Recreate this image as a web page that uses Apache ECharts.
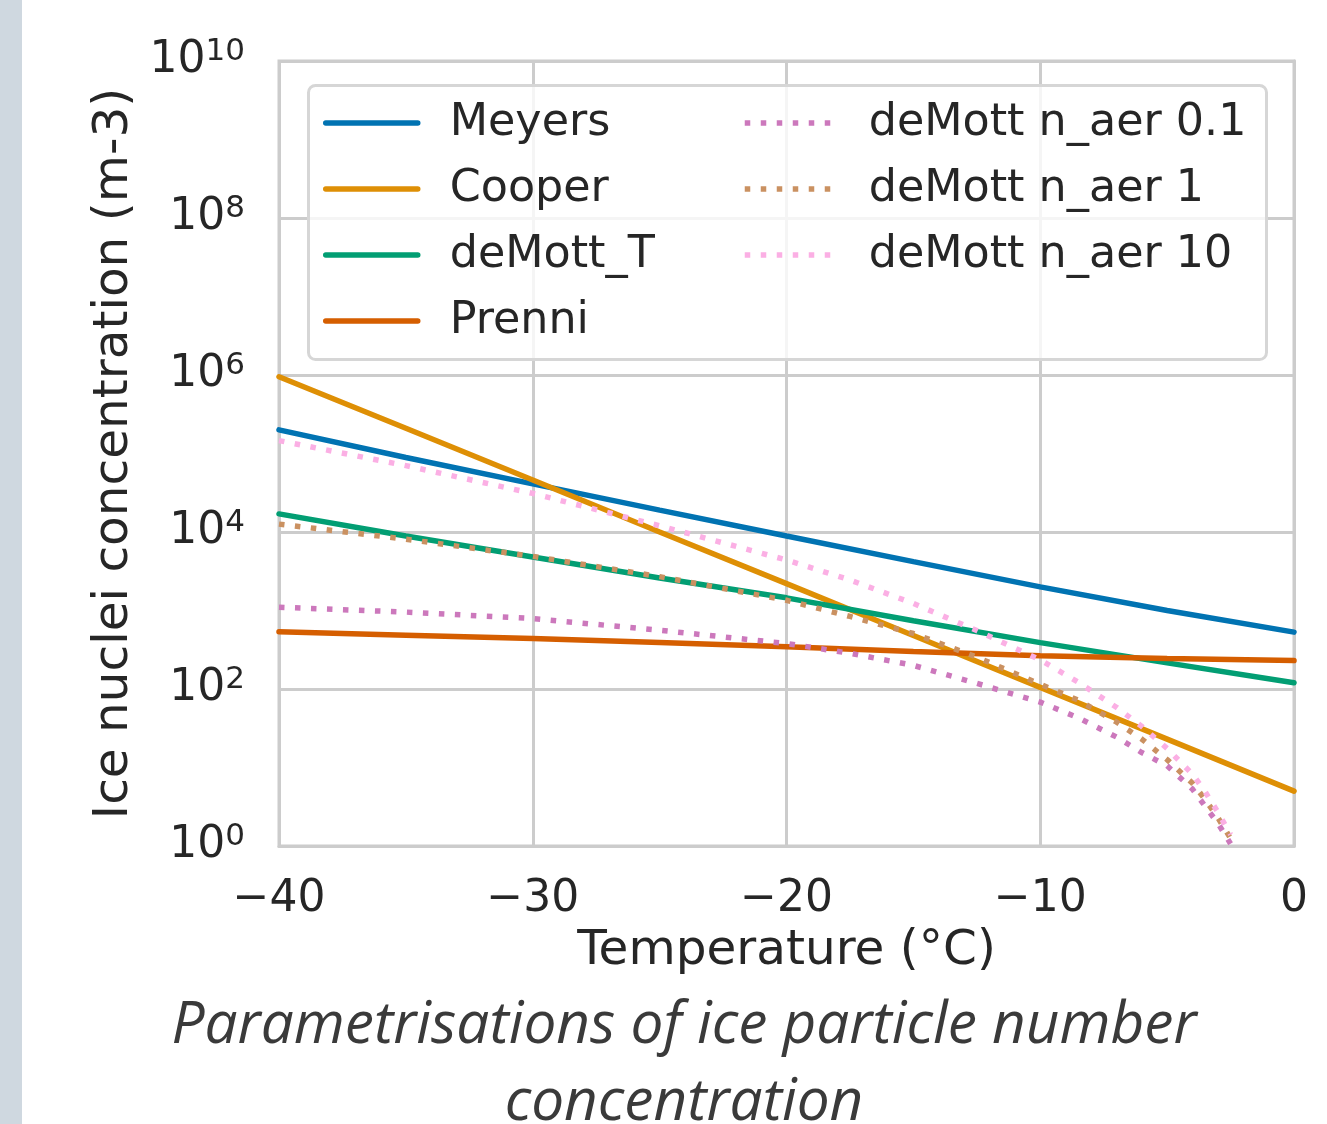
<!DOCTYPE html>
<html>
<head>
<meta charset="utf-8">
<script src="https://cdn.jsdelivr.net/npm/echarts@6/dist/echarts.min.js"></script>
<style>
  html, body { margin: 0; padding: 0; background: #fff; }
  #chart { width: 1327px; height: 1124px; }
</style>
</head>
<body>
<div id="chart"></div>
<script>
// temperatures (°C) for the straight parametrisations
const tempsSolid = [-40, -35, -30, -25, -20, -15, -10, -5, 0];
const meyers   = [2.0e5, 8.9e4, 4.1e4, 1.9e4, 8.9e3, 4.2e3, 2.0e3, 1.0e3, 530];
const cooper   = [9.5e5, 2.1e5, 4.6e4, 1.0e4, 2.2e3, 480, 105, 23, 5.0];
const demottT  = [1.7e4, 8.9e3, 4.8e3, 2.6e3, 1450, 740, 390, 215, 120];
const prenni   = [535, 485, 440, 390, 345, 300, 265, 245, 230];

// temperatures for the aerosol-dependent deMott curves
const tempsDot = [-40, -35, -30, -25, -20, -17.5, -15, -12.5, -10, -8.5, -7, -6, -5, -4, -3.5, -3, -2.5];
const demott01 = [1100, 955, 790, 560, 380, 285, 200, 118, 68, 43, 24.5, 15.5, 10.5, 5.3, 3.2, 1.95, 1.07];
const demott1  = [1.26e4, 8.1e3, 4.9e3, 2.7e3, 1350, 840, 510, 255, 115, 72, 38, 23, 12.6, 6.3, 3.9, 2.3, 1.25];
const demott10 = [1.46e5, 7.0e4, 3.1e4, 1.2e4, 4.4e3, 2450, 1230, 555, 235, 122, 58.5, 33.4, 17.5, 8.2, 4.9, 2.7, 1.4];

const xTicks = [-40, -30, -20, -10, 0];
const captionLines = ['Parametrisations of ice particle number', 'concentration'];

function pairs(xs, ys) {
  return xs.map((x, i) => [x, ys[i]]);
}

const font = 'DejaVu Sans';
const textColor = '#262626';
const gridColor = '#cccccc';

function solid(name, color, xs, ys) {
  return {
    name: name, type: 'line', data: pairs(xs, ys),
    symbol: 'none', showSymbol: false, silent: true,
    lineStyle: { color: color, width: 5.5, cap: 'round' },
    itemStyle: { color: color }
  };
}
function dotted(name, color, xs, ys) {
  return {
    name: name, type: 'line', data: pairs(xs, ys),
    symbol: 'none', showSymbol: false, silent: true,
    lineStyle: { color: color, width: 5.5, type: [5.5, 10.5], cap: 'butt' },
    itemStyle: { color: color }
  };
}

const legendCommon = {
  orient: 'vertical',
  top: 98,
  padding: 0,
  itemWidth: 92,
  itemHeight: 14,
  itemGap: 16,
  selectedMode: false,
  z: 10,
  itemStyle: { opacity: 0 },
  lineStyle: { width: 5.5 },
  textStyle: { fontFamily: font, fontSize: 44.4, lineHeight: 50, color: textColor, padding: [0, 0, 0, 27] }
};

const chart = echarts.init(document.getElementById('chart'));
const option = {
  backgroundColor: '#ffffff',
  animation: false,
  grid: {
    left: 279, right: 33, top: 61, bottom: 278,
    show: true, borderColor: gridColor, borderWidth: 3
  },
  legend: [
    Object.assign({}, legendCommon, { left: 323, data: ['Meyers', 'Cooper', 'deMott_T', 'Prenni'] }),
    Object.assign({}, legendCommon, { left: 742, data: ['deMott n_aer 0.1', 'deMott n_aer 1', 'deMott n_aer 10'] })
  ],
  xAxis: {
    type: 'value', min: -40, max: 0, interval: 10,
    name: 'Temperature (°C)', nameLocation: 'middle', nameGap: 77,
    nameTextStyle: { fontFamily: font, fontSize: 48.5, color: textColor },
    axisLine: { show: true, lineStyle: { color: gridColor, width: 3 } },
    axisTick: { show: false },
    axisLabel: {
      fontFamily: font, fontSize: 44, color: textColor, margin: 32,
      formatter: v => xTicks.indexOf(v) < 0 ? '' : (v < 0 ? '\u2212' + Math.abs(v) : String(v))
    },
    splitLine: { show: true, lineStyle: { color: gridColor, width: 3 } }
  },
  yAxis: {
    type: 'log', logBase: 10, min: 1, max: 1e10, interval: 2,
    name: 'Ice nuclei concentration (m-3)', nameLocation: 'middle', nameGap: 140,
    nameTextStyle: { fontFamily: font, fontSize: 48.5, color: textColor },
    axisLine: { show: true, lineStyle: { color: gridColor, width: 3 } },
    axisTick: { show: false },
    axisLabel: {
      margin: 34,
      formatter: v => '{b|10}{s|' + Math.round(Math.log10(v)) + '}',
      rich: {
        b: { fontFamily: font, fontSize: 44, lineHeight: 50, color: textColor },
        s: { fontFamily: font, fontSize: 31, lineHeight: 26, verticalAlign: 'top', color: textColor }
      }
    },
    splitLine: { show: true, lineStyle: { color: gridColor, width: 3 } }
  },
  graphic: [
    {
      type: 'rect', left: 0, top: 0, z: 1,
      shape: { width: 22, height: 1124 },
      style: { fill: '#cfd8e0' }
    },
    {
      type: 'rect', left: 307, top: 84, z: 9,
      shape: { width: 958, height: 274, r: 7 },
      style: { fill: 'rgba(255,255,255,0.8)', stroke: '#d6d6d6', lineWidth: 3 }
    }
  ].concat(captionLines.map((line, i) => ({
    type: 'text', z: 9,
    style: {
      text: line, x: 684, y: 1026 + i * 77,
      fontFamily: 'Open Sans', fontStyle: 'italic', fontSize: 58.5,
      fill: '#3a3a3a', align: 'center', verticalAlign: 'middle'
    }
  }))),
  series: [
    solid('Meyers', '#0173b2', tempsSolid, meyers),
    solid('Cooper', '#de8f05', tempsSolid, cooper),
    solid('deMott_T', '#029e73', tempsSolid, demottT),
    solid('Prenni', '#d55e00', tempsSolid, prenni),
    dotted('deMott n_aer 0.1', '#cc78bc', tempsDot, demott01),
    dotted('deMott n_aer 1', '#ca9161', tempsDot, demott1),
    dotted('deMott n_aer 10', '#fbafe4', tempsDot, demott10)
  ]
};
chart.setOption(option);
</script>
</body>
</html>
